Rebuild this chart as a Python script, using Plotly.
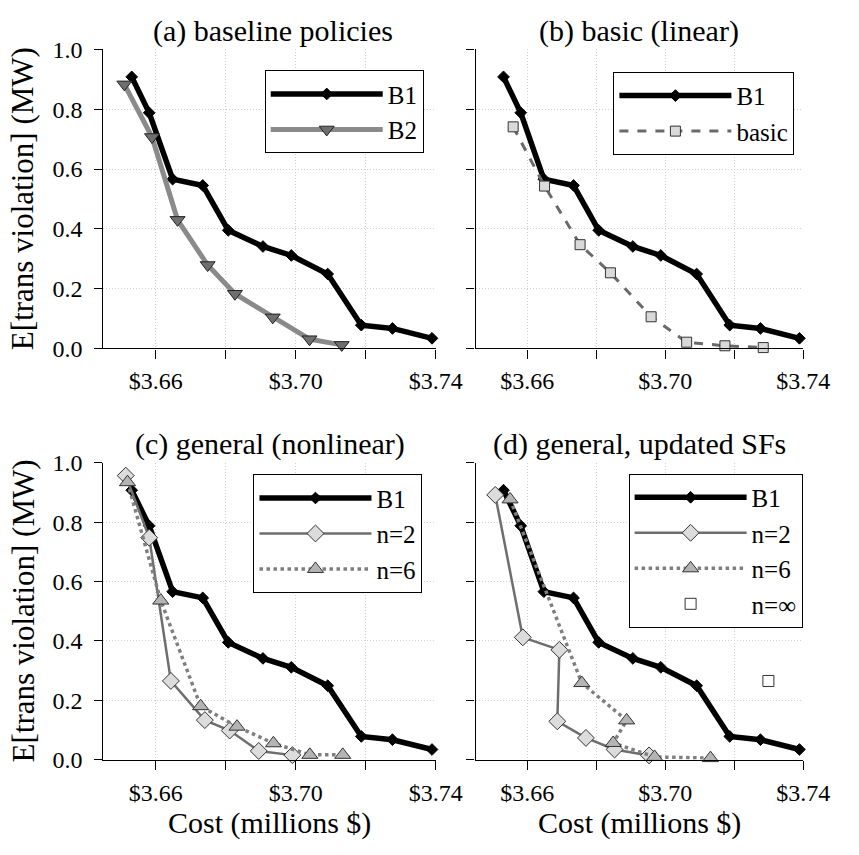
import plotly.graph_objects as go

W, H = 859, 855
FONT = "Liberation Serif"

# ---------------- data ----------------
b1_cost = [3.6531, 3.6581, 3.6648, 3.6734, 3.6807, 3.6906, 3.6987, 3.7091, 3.7187, 3.7276, 3.7389]
b1_viol = [0.908, 0.788, 0.566, 0.545, 0.395, 0.341, 0.311, 0.249, 0.078, 0.067, 0.034]

b2_cost = [3.6510, 3.6589, 3.6662, 3.6748, 3.6826, 3.6934, 3.7039, 3.7131]
b2_viol = [0.883, 0.707, 0.430, 0.279, 0.183, 0.104, 0.031, 0.012]

basic_cost = [3.6559, 3.6650, 3.6753, 3.6841, 3.6959, 3.7062, 3.7173, 3.7284]
basic_viol = [0.741, 0.543, 0.347, 0.253, 0.106, 0.021, 0.009, 0.003]

c_n2_cost = [3.6514, 3.6581, 3.6643, 3.6740, 3.6811, 3.6894, 3.6990]
c_n2_viol = [0.957, 0.748, 0.265, 0.133, 0.098, 0.029, 0.015]

c_n6_cost = [3.6519, 3.6614, 3.6728, 3.6832, 3.6936, 3.7040, 3.7134]
c_n6_viol = [0.935, 0.536, 0.180, 0.111, 0.055, 0.016, 0.016]

d_n2_cost = [3.6507, 3.6587, 3.6693, 3.6687, 3.6770, 3.6853, 3.6953]
d_n2_viol = [0.892, 0.412, 0.370, 0.129, 0.073, 0.034, 0.014]

d_n6_cost = [3.6550, 3.6758, 3.6888, 3.6849, 3.6969, 3.7131]
d_n6_viol = [0.877, 0.258, 0.132, 0.056, 0.009, 0.005]

d_ninf_cost = [3.7299]
d_ninf_viol = [0.265]

x_tickvals = [3.66, 3.68, 3.70, 3.72, 3.74]
x_ticktext = ["$3.66", "", "$3.70", "", "$3.74"]
y_tickvals = [0.0, 0.2, 0.4, 0.6, 0.8, 1.0]

titles = ["(a) baseline policies", "(b) basic (linear)",
          "(c) general (nonlinear)", "(d) general, updated SFs"]
x_title = "Cost (millions $)"
y_title = "E[trans violation] (MW)"

# ---------------- layout geometry (pixels) ----------------
def px_x(p):
    return p / W

def px_y(p):
    return 1 - p / H

col_px = [(106.7, 450.0), (491.0, 829.3)]
row_px = [(37.5, 346.0), (464.0, 770.0)]
title_dx = [4, 0, 0, 0]

fig = go.Figure()

B1 = dict(mode="lines+markers", line=dict(color="black", width=5.5),
          marker=dict(symbol="diamond", size=9, color="black",
                      line=dict(color="black", width=1)), name="B1")
B2 = dict(mode="lines+markers", line=dict(color="#8a8a8a", width=5),
          marker=dict(symbol="triangle-down", size=13, color="#6f6f6f",
                      line=dict(color="#222222", width=1)), name="B2")
BASIC = dict(mode="lines+markers", line=dict(color="#6a6a6a", width=3, dash="dash"),
             marker=dict(symbol="square", size=10, color="#d9d9d9",
                         line=dict(color="#333333", width=1)), name="basic")
N2 = dict(mode="lines+markers", line=dict(color="#6e6e6e", width=2.5),
          marker=dict(symbol="diamond", size=13, color="#dcdcdc",
                      line=dict(color="#333333", width=1)), name="n=2")
N6 = dict(mode="lines+markers", line=dict(color="#7f7f7f", width=3.5, dash="dot"),
          marker=dict(symbol="triangle-up", size=14, color="#b4b4b4",
                      line=dict(color="#333333", width=1)), name="n=6")
NINF = dict(mode="markers",
            marker=dict(symbol="square", size=11, color="white",
                        line=dict(color="#333333", width=1)), name="n=\u221e")

panels = [
    [(b1_cost, b1_viol, B1), (b2_cost, b2_viol, B2)],
    [(b1_cost, b1_viol, B1), (basic_cost, basic_viol, BASIC)],
    [(b1_cost, b1_viol, B1), (c_n2_cost, c_n2_viol, N2), (c_n6_cost, c_n6_viol, N6)],
    [(b1_cost, b1_viol, B1), (d_n2_cost, d_n2_viol, N2), (d_n6_cost, d_n6_viol, N6),
     (d_ninf_cost, d_ninf_viol, NINF)],
]

legend_names = ["legend", "legend2", "legend3", "legend4"]
legend_pos = [(273.3, 59.0), (633.3, 60.7), (261.7, 475.7), (649.0, 475.0)]

for i, series in enumerate(panels):
    sfx = "" if i == 0 else str(i + 1)
    for rank, (xs, ys, st) in enumerate(series):
        fig.add_trace(go.Scatter(x=xs, y=ys, xaxis="x" + sfx, yaxis="y" + sfx,
                                 legend=legend_names[i], legendrank=rank + 1,
                                 cliponaxis=False, **st))

fig.update_layout(width=W, height=H, margin=dict(l=0, r=0, t=0, b=0),
                  paper_bgcolor="white", plot_bgcolor="white",
                  font=dict(family=FONT, size=24, color="black"),
                  showlegend=True)

for i in range(4):
    r, c = divmod(i, 2)
    sfx = "" if i == 0 else str(i + 1)
    xl, xr = col_px[c]
    yt, yb = row_px[r]
    fig.update_layout(**{
        "xaxis" + sfx: dict(
            domain=[px_x(xl), px_x(xr)], anchor="y" + sfx, range=[3.645, 3.74],
            tickvals=x_tickvals, ticktext=x_ticktext, ticks="outside", ticklen=9,
            tickwidth=1.3, tickcolor="black", showline=True, linecolor="black",
            linewidth=1.3, showgrid=True, gridcolor="#d0d0d0", griddash="1px,2px",
            gridwidth=1, zeroline=False, ticklabelstandoff=2),
        "yaxis" + sfx: dict(
            domain=[px_y(yb), px_y(yt)], anchor="x" + sfx, range=[0, 1.0],
            tickvals=y_tickvals, tickformat=".1f", ticks="outside", ticklen=8,
            tickwidth=1.3, tickcolor="black", showline=True, linecolor="black",
            linewidth=1.3, showgrid=True, gridcolor="#d0d0d0", griddash="1px,2px",
            gridwidth=1, zeroline=False, showticklabels=(c == 0),
            ticklabelstandoff=7),
    })
    lx, ly = legend_pos[i]
    fig.update_layout(**{legend_names[i]: dict(
        x=px_x(lx), y=px_y(ly), xanchor="left", yanchor="top",
        bgcolor="white", bordercolor="black", borderwidth=1,
        font=dict(size=25), itemwidth=112, tracegroupgap=0)})

for i, t in enumerate(titles):
    r, c = divmod(i, 2)
    xl, xr = col_px[c]
    yt, yb = row_px[r]
    fig.add_annotation(text=t, x=px_x((xl + xr) / 2 + title_dx[i]), y=px_y(yt - 19),
                       xref="paper", yref="paper", xanchor="center",
                       yanchor="middle", showarrow=False, font=dict(size=30))
for c in range(2):
    xl, xr = col_px[c]
    fig.add_annotation(text=x_title, x=px_x((xl + xr) / 2), y=px_y(835),
                       xref="paper", yref="paper", xanchor="center",
                       yanchor="middle", showarrow=False, font=dict(size=30))
for r in range(2):
    yt, yb = row_px[r]
    fig.add_annotation(text=y_title, x=px_x(24), y=px_y((yt + yb) / 2),
                       xref="paper", yref="paper", xanchor="center",
                       yanchor="middle", textangle=-90, showarrow=False,
                       font=dict(size=31))

fig.write_html("out.html")
